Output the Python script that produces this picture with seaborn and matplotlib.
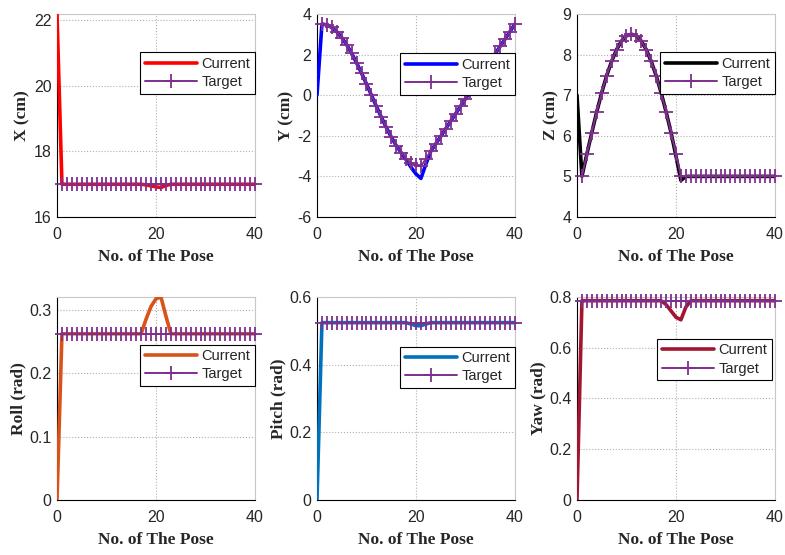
"""
Seis painéis: pose atual vs. alvo (X, Y, Z, Roll, Pitch, Yaw) por número da pose.
"""
import matplotlib
matplotlib.use("Agg")
import matplotlib.pyplot as plt
import seaborn as sns
import pandas as pd

sns.set_style("white")
plt.rcParams["font.family"] = ["Liberation Sans", "DejaVu Sans"]

POSE_CUR = list(range(0, 41))
POSE_TGT = list(range(1, 41))

# valores
x_cur = [22.2, 17.0, 17.0, 17.0, 17.0, 17.0, 17.0, 17.0, 17.0, 17.0, 17.0,
         17.0, 17.0, 17.0, 17.0, 17.0, 17.0, 17.0, 16.98, 16.95, 16.92,
         16.9, 16.96, 17.0, 17.0, 17.0, 17.0, 17.0, 17.0, 17.0, 17.0,
         17.0, 17.0, 17.0, 17.0, 17.0, 17.0, 17.0, 17.0, 17.0, 17.0]
x_tgt = [17.0] * 40

y_cur = [0.0, 3.5, 3.46, 3.33, 3.12, 2.83, 2.48, 2.06, 1.59, 1.08, 0.55,
         0.0, -0.55, -1.08, -1.59, -2.06, -2.48, -2.83, -3.18, -3.55, -3.88,
         -4.1, -3.4, -2.76, -2.4, -2.03, -1.66, -1.29, -0.92, -0.55, -0.18,
         0.18, 0.55, 0.92, 1.29, 1.66, 2.03, 2.4, 2.76, 3.13, 3.5]
y_tgt = [3.5, 3.46, 3.33, 3.12, 2.83, 2.48, 2.06, 1.59, 1.08, 0.55,
         0.0, -0.55, -1.08, -1.59, -2.06, -2.48, -2.83, -3.12, -3.33, -3.46,
         -3.5, -3.13, -2.76, -2.4, -2.03, -1.66, -1.29, -0.92, -0.55, -0.18,
         0.18, 0.55, 0.92, 1.29, 1.66, 2.03, 2.4, 2.76, 3.13, 3.5]

z_cur = [7.0, 5.0, 5.55, 6.08, 6.59, 7.06, 7.48, 7.83, 8.12, 8.33, 8.46,
         8.5, 8.46, 8.33, 8.12, 7.83, 7.48, 7.06, 6.59, 6.08, 5.5,
         4.9, 5.0, 5.0, 5.0, 5.0, 5.0, 5.0, 5.0, 5.0, 5.0,
         5.0, 5.0, 5.0, 5.0, 5.0, 5.0, 5.0, 5.0, 5.0, 5.0]
z_tgt = [5.0, 5.55, 6.08, 6.59, 7.06, 7.48, 7.83, 8.12, 8.33, 8.46,
         8.5, 8.46, 8.33, 8.12, 7.83, 7.48, 7.06, 6.59, 6.08, 5.55,
         5.0, 5.0, 5.0, 5.0, 5.0, 5.0, 5.0, 5.0, 5.0, 5.0,
         5.0, 5.0, 5.0, 5.0, 5.0, 5.0, 5.0, 5.0, 5.0, 5.0]

roll_cur = [0.0] + [0.262] * 17 + [0.285, 0.305, 0.317, 0.32, 0.29] + [0.262] * 18
roll_tgt = [0.262] * 40

pitch_cur = [0.0] + [0.524] * 18 + [0.52, 0.515, 0.515, 0.52] + [0.524] * 18
pitch_tgt = [0.524] * 40

yaw_cur = [0.0] + [0.785] * 17 + [0.77, 0.745, 0.72, 0.71, 0.76] + [0.785] * 18
yaw_tgt = [0.785] * 40

PAINEIS = [
    ("X (cm)", x_cur, x_tgt, "#FF0000", (16, 22.2), [16, 18, 20, 22], (1.0, 0.81)),
    ("Y (cm)", y_cur, y_tgt, "#0000FF", (-6, 4), [-6, -4, -2, 0, 2, 4], (1.0, 0.805)),
    ("Z (cm)", z_cur, z_tgt, "#000000", (4, 9), [4, 5, 6, 7, 8, 9], (1.0, 0.81)),
    ("Roll (rad)", roll_cur, roll_tgt, "#D95319", (0, 0.32), [0, 0.1, 0.2, 0.3], (1.0, 0.765)),
    ("Pitch (rad)", pitch_cur, pitch_tgt, "#0072BD", (0, 0.6), [0, 0.2, 0.4, 0.6], (1.0, 0.755)),
    ("Yaw (rad)", yaw_cur, yaw_tgt, "#A2142F", (0, 0.8), [0, 0.2, 0.4, 0.6, 0.8], (0.985, 0.793)),
]

ALVO = "#7E2F8E"
SERIF = ["Liberation Serif", "DejaVu Serif"]

fig = plt.figure(figsize=(7.85, 5.55), dpi=100)
lefts = [0.0726, 0.4038, 0.735]
bottoms = [0.609, 0.099]

for i, (nome, cur, tgt, cor, ylim, yticks, leg_pos) in enumerate(PAINEIS):
    ax = fig.add_axes([lefts[i % 3], bottoms[i // 3], 0.2522, 0.366])
    df_c = pd.DataFrame({"pose": POSE_CUR, "v": cur})
    df_t = pd.DataFrame({"pose": POSE_TGT, "v": tgt})
    sns.lineplot(data=df_c, x="pose", y="v", ax=ax, color=cor, lw=2.6,
                 label="Current", zorder=3)
    sns.lineplot(data=df_t, x="pose", y="v", ax=ax, color=ALVO, lw=1.4,
                 marker="+", markersize=10, markeredgewidth=1.3,
                 markeredgecolor=ALVO, label="Target", zorder=4, clip_on=False)
    ax.set_xlim(0, 40)
    ax.set_ylim(*ylim)
    ax.set_xticks([0, 20, 40])
    ax.set_yticks(yticks)
    ax.set_yticklabels([f"{t:g}" for t in yticks])
    ax.grid(True, ls=":", color="#b0b0b0", lw=0.8)
    ax.tick_params(direction="in", labelsize=11.5, length=3)
    ax.tick_params(axis="x", pad=7)
    ax.tick_params(axis="y", pad=4)
    for s in ["top", "right"]:
        ax.spines[s].set_color("#c8c8c8")
        ax.spines[s].set_linewidth(0.8)
    for s in ["left", "bottom"]:
        ax.spines[s].set_color("black")
        ax.spines[s].set_linewidth(0.8)
    ax.set_xlabel("No. of The Pose", family=SERIF, weight="bold", fontsize=12.5, labelpad=5)
    ax.set_ylabel(nome, family=SERIF, weight="bold", fontsize=12.5, labelpad=2)
    leg = ax.legend(loc="upper right", bbox_to_anchor=leg_pos, fontsize=10.5,
                    handlelength=3.6, labelspacing=0.3, borderpad=0.3,
                    handletextpad=0.3, borderaxespad=0, fancybox=False,
                    framealpha=1)
    leg.get_frame().set_edgecolor("black")
    leg.get_frame().set_linewidth(0.8)

fig.savefig("out.png", dpi=100)
plt.close(fig)
